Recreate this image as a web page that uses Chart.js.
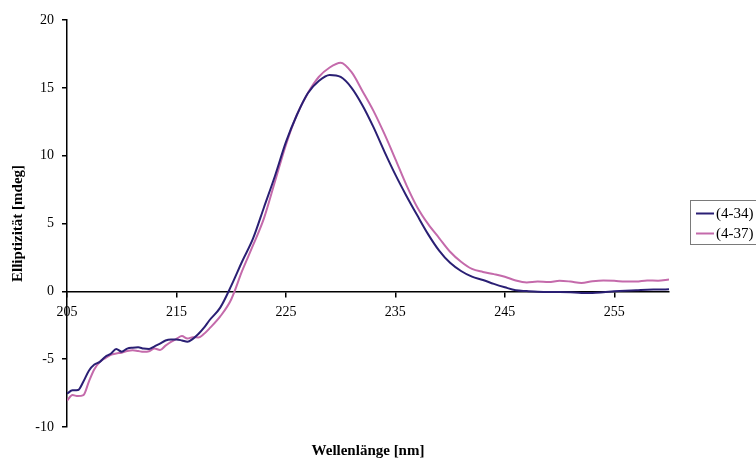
<!DOCTYPE html>
<html>
<head>
<meta charset="utf-8">
<script src="https://cdn.jsdelivr.net/npm/chart.js@4/dist/chart.umd.min.js"></script>
<style>
  body { margin: 0; background: #fff; }
  canvas { display: block; }
</style>
</head>
<body>
<canvas id="cd" width="756" height="459"></canvas>
<script>
// wavelength in nm (0.5 nm steps in the noisy region, 1 nm after)
const wavelength = [
  205, 205.5, 206, 206.5, 207, 207.5, 208, 208.5, 209, 209.5, 210, 210.5, 211, 211.5,
  212, 212.5, 213, 213.5, 214, 214.5, 215, 215.5, 216, 216.5, 217, 217.5, 218,
  219, 220, 221, 222, 223, 224, 225, 226, 227, 228, 229, 230, 231, 232, 233, 234,
  235, 236, 237, 238, 239, 240, 241, 242, 243, 244, 245, 246, 247, 248, 249, 250,
  251, 252, 253, 254, 255, 256, 257, 258, 259, 260
];
const sample434 = [
  -7.55, -7.3, -7.28, -6.65, -5.85, -5.4, -5.2, -4.82, -4.6, -4.25, -4.45, -4.22, -4.15, -4.12,
  -4.22, -4.25, -4.05, -3.85, -3.62, -3.55, -3.55, -3.62, -3.72, -3.5, -3.15, -2.7, -2.15,
  -1.2, 0.4, 2.2, 3.9, 6.2, 8.5, 11.0, 13.0, 14.6, 15.5, 15.95, 15.8, 15.0, 13.7, 12.1, 10.3,
  8.6, 7.05, 5.6, 4.2, 3.0, 2.1, 1.5, 1.08, 0.84, 0.55, 0.3, 0.08, 0.02, -0.03, -0.05, -0.05,
  -0.07, -0.12, -0.12, -0.07, 0.0, 0.05, 0.08, 0.12, 0.13, 0.15
];
const sample437 = [
  -8.05, -7.65, -7.72, -7.65, -6.65, -5.75, -5.2, -4.92, -4.68, -4.58, -4.52, -4.4, -4.34, -4.4,
  -4.46, -4.42, -4.22, -4.32, -4.0, -3.72, -3.5, -3.3, -3.48, -3.38, -3.4, -3.15, -2.75,
  -1.85, -0.6, 1.5, 3.4, 5.4, 8.1, 10.8, 13.0, 14.6, 15.8, 16.5, 16.85, 16.15, 14.75, 13.3, 11.6,
  9.75, 7.85, 6.2, 4.95, 3.93, 2.92, 2.18, 1.65, 1.43, 1.27, 1.08, 0.8, 0.66, 0.72, 0.68, 0.78,
  0.72, 0.62, 0.74, 0.8, 0.78, 0.72, 0.72, 0.8, 0.78, 0.88
];
const seriesNames = ["(4-34)", "(4-37)"];
const xTicks = [205, 215, 225, 235, 245, 255];
const yTicks = [-10, -5, 0, 5, 10, 15, 20];

const serif = "'Liberation Serif', 'Times New Roman', serif";

// Excel-style legend: framed box on the right
const boxLegend = {
  id: "boxLegend",
  afterDraw(chart) {
    const ctx = chart.ctx;
    ctx.save();
    ctx.strokeStyle = "#7a7a7a";
    ctx.lineWidth = 1;
    ctx.strokeRect(690.5, 200.5, 70, 44);
    ctx.font = "15px " + serif;
    ctx.textBaseline = "middle";
    ctx.fillStyle = "#000";
    chart.data.datasets.forEach((ds, i) => {
      const y = 213.5 + i * 20;
      ctx.strokeStyle = ds.borderColor;
      ctx.lineWidth = 2;
      ctx.beginPath();
      ctx.moveTo(696, y);
      ctx.lineTo(714, y);
      ctx.stroke();
      ctx.fillText(ds.label, 716, y + 1);
    });
    ctx.restore();
  }
};

new Chart(document.getElementById("cd"), {
  type: "line",
  data: {
    datasets: [
      {
        label: seriesNames[0],
        data: wavelength.map((w, i) => ({ x: w, y: sample434[i] })),
        borderColor: "#2a1f74",
        borderWidth: 2,
        pointRadius: 0,
        cubicInterpolationMode: "monotone"
      },
      {
        label: seriesNames[1],
        data: wavelength.map((w, i) => ({ x: w, y: sample437[i] })),
        borderColor: "#c46aab",
        borderWidth: 2,
        pointRadius: 0,
        cubicInterpolationMode: "monotone"
      }
    ]
  },
  options: {
    responsive: false,
    animation: false,
    layout: { padding: { top: 20, right: 87, left: 0, bottom: 0 } },
    plugins: {
      legend: { display: false },
      tooltip: { enabled: false },
      title: {
        display: true,
        text: "Wellenlänge [nm]",
        position: "bottom",
        fullSize: false,
        color: "#000",
        font: { family: serif, size: 15, weight: "bold", lineHeight: 1 },
        padding: { top: 17, bottom: 0 }
      }
    },
    scales: {
      x: {
        type: "linear",
        min: 205,
        max: 260,
        position: { y: 0 },
        afterBuildTicks: (s) => { s.ticks = xTicks.map(v => ({ value: v })); },
        ticks: { color: "#000", font: { family: serif, size: 14 }, padding: 8, maxRotation: 0 },
        grid: { drawOnChartArea: false, drawTicks: true, tickLength: 5, color: "#000", lineWidth: 1.5 },
        border: { color: "#000", width: 1.5 }
      },
      y: {
        min: -10,
        max: 20,
        afterBuildTicks: (s) => { s.ticks = yTicks.map(v => ({ value: v })); },
        afterFit: (s) => { s.width = 67; },
        ticks: { color: "#000", font: { family: serif, size: 14 }, padding: 8 },
        grid: { drawOnChartArea: false, drawTicks: true, tickLength: 5, color: "#000", lineWidth: 1.5 },
        border: { color: "#000", width: 1.5 },
        title: {
          display: true,
          text: "Elliptizität [mdeg]",
          color: "#000",
          font: { family: serif, size: 15, weight: "bold" },
          padding: { top: 9, bottom: 0 }
        }
      }
    }
  },
  plugins: [boxLegend]
});
</script>
</body>
</html>
